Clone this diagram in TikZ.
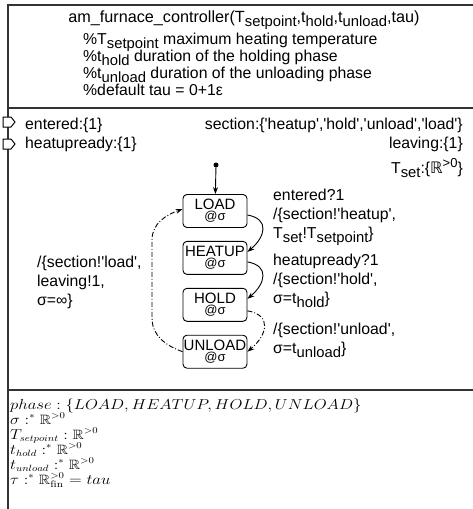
\documentclass[tikz,border=0pt]{standalone}
\usepackage{fontspec}
\usepackage{amssymb}
\usepackage{graphicx}
\usetikzlibrary{arrows.meta,positioning}

\newfontfamily\sansf{Liberation Sans}
\newfontfamily\symf{DejaVu Sans}
\newcommand\sfont[2]{\sansf\fontsize{#1}{#2}\selectfont\lineskiplimit=-20pt\relax}
\newcommand\mfont{\fontsize{13.5}{15}\selectfont\lineskiplimit=-20pt\relax}
\newcommand\lo[1]{\raisebox{-4pt}{\fontsize{14.8}{14}\selectfont #1}}
\newcommand\q{\textquotesingle}

\begin{document}
\begin{tikzpicture}[
  x=1pt, y=1pt,
  font=\sfont{15.8}{18.7},
  node distance=13pt,
  frame/.style={line width=1.2pt, draw=black!80},
  state/.style={draw, rounded corners=4pt, line width=0.9pt, align=center, minimum width=64pt, minimum height=33pt, inner sep=0pt, font=\sfont{15}{11}},
  txt/.style={anchor=base west, align=left, inner sep=0pt},
  rtxt/.style={anchor=base east, inner sep=0pt},
  arrow/.style={-{Stealth[length=7pt,width=5pt]}, line width=0.9pt},
  altline/.style={dash pattern=on 5pt off 2pt on 1pt off 2pt},
  inport/.pic={\draw[line width=1pt, fill=white] (-5,5) -- (3,5) -- (7,0) -- (3,-5) -- (-5,-5) -- cycle;}
]
\useasboundingbox (0,0) rectangle (473,-509);

% frame
\draw[frame] (8,-509) -- (8,-5) -- (473,-5);
\draw[frame] (8,-108) -- (473,-108);
\draw[frame] (8,-390) -- (473,-390);

% header (multi-line nodes sit on their last line)
\node[anchor=base, inner sep=0pt, font=\sfont{16.2}{18}] (title) at (244,-22) {am\_furnace\_controller(T\lo{setpoint},t\lo{hold},t\lo{unload},tau)};
\node[txt, font=\sfont{15.8}{17}] (notes) at (83,-95) {\%T\lo{setpoint} maximum heating temperature\\
  \%t\lo{hold} duration of the holding phase\\
  \%t\lo{unload} duration of the unloading phase\\
  \%default tau = 0+1ε};

% ports
\pic at (8,-122) {inport};
\pic at (8,-144) {inport};
\node[txt] (entered) at (25,-129) {entered:\{1\}};
\node[txt] (heatupready) at (25,-148) {heatupready:\{1\}};
\node[rtxt] (section) at (463,-129) {section:\{\q heatup\q,\q hold\q,\q unload\q,\q load\q\}};
\node[rtxt] (leaving) at (463,-148) {leaving:\{1\}};
\node[rtxt] (tset) at (463,-173) {T\lo{set}:\{{\symf ℝ}\raisebox{6pt}{\fontsize{13}{13}\selectfont >0}\}};

% states
\node[circle, fill, inner sep=0pt, minimum size=5pt] (init) at (216,-165) {};
\node[state] (load) at (215,-211) {LOAD\\{\fontsize{13}{13}\selectfont @σ}};
\node[state, below=of load] (heatup) {HEATUP\\{\fontsize{13}{13}\selectfont @σ}};
\node[state, below=of heatup] (hold) {HOLD\\{\fontsize{13}{13}\selectfont @σ}};
\node[state, below=of hold] (unload) {UNLOAD\\{\fontsize{13}{13}\selectfont @σ}};

\draw[arrow] (init) -- (load);
\draw[arrow] ([yshift=-4pt]load.east) to[out=-10, in=40, looseness=1.6] ([yshift=6pt]heatup.east);
\draw[arrow] ([yshift=-4pt]heatup.east) to[out=-10, in=40, looseness=1.6] ([yshift=6pt]hold.east);
\draw[arrow, altline] ([yshift=-6pt]hold.east) to[out=-10, in=40, looseness=1.6] (unload.east);
\coordinate (back1) at (152,-318);
\coordinate (back2) at (152,-240);
\draw[arrow, altline] (unload.west) to[out=160, in=-90] (back1) -- (back2) to[out=90, in=200] ([yshift=2pt]load.west);

% transition labels
\node[txt] (t1) at (273,-238) {entered?1\\/\{section!\q heatup\q,\\T\lo{set}!T\lo{setpoint}\}};
\node[txt] (t2) at (273,-303) {heatupready?1\\/\{section!\q hold\q,\\σ=t\lo{hold}\}};
\node[txt] (t3) at (273,-353) {/\{section!\q unload\q,\\σ=t\lo{unload}\}};
\node[txt] (t4) at (37,-305) {/\{section!\q load\q,\\leaving!1,\\σ=∞\}};

% variables
\begin{scope}[xscale=1.16]
\node[txt, transform shape, font=\mfont] (vars) at (8.6,-484) {$phase : \{LOAD, HEATUP, HOLD, UNLOAD\}$\\
  $\sigma :^{*} \mathbb{R}^{>0}$\\
  $T_{setpoint} : \mathbb{R}^{>0}$\\
  $t_{hold} :^{*} \mathbb{R}^{>0}$\\
  $t_{unload} :^{*} \mathbb{R}^{>0}$\\
  $\tau :^{*} \mathbb{R}^{>0}_{\mathrm{fin}} = tau$};
\end{scope}
\end{tikzpicture}
\end{document}
